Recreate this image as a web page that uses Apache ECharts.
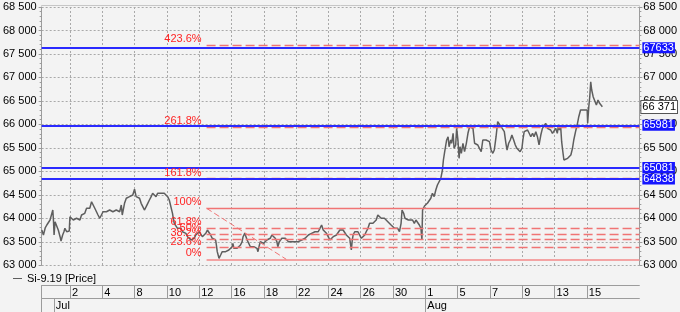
<!DOCTYPE html>
<html>
<head>
<meta charset="utf-8">
<script src="https://cdn.jsdelivr.net/npm/echarts@6/dist/echarts.min.js"></script>
<style>
html,body{margin:0;padding:0;background:#f3f3f3;}
#chart{width:680px;height:312px;}
</style>
</head>
<body>
<div id="chart"></div>
<script>
// ---- data ----
const tradingDays = ['06-28','07-01','07-02','07-03','07-04','07-05','07-08','07-09','07-10','07-11','07-12','07-15','07-16','07-17','07-18','07-19','07-22','07-23','07-24','07-25','07-26','07-29','07-30','07-31','08-01','08-02','08-05','08-06','08-07','08-08','08-09','08-12','08-13','08-14','08-15','08-16','08-19','08-20'];
const xTickDays = ['07-02','07-04','07-08','07-10','07-12','07-16','07-18','07-22','07-24','07-26','07-30','08-01','08-05','08-07','08-09','08-13','08-15'];
const monthStarts = ['07-01','08-01'];
const monthLabels = ['Jul','Aug'];
const yTicks = [63000,63500,64000,64500,65000,65500,66000,66500,67000,67500,68000,68500];
const seriesName = 'Si-9.19 [Price]';

// time in trading days (0 = start of 1 Jul), price in RUB
const priceT = [-0.74,-0.64,-0.53,-0.43,-0.33,-0.23,-0.06,-0.02,0.02,0.08,0.18,0.28,0.39,0.45,0.55,0.63,0.69,0.80,0.96,1.00,
1.11,1.21,1.41,1.51,1.62,1.72,1.82,1.92,2.03,2.13,2.23,2.34,2.43,2.54,2.64,2.74,2.85,2.95,3.05,3.15,
3.26,3.46,3.66,3.87,4.08,4.18,4.24,4.38,4.49,4.59,4.69,4.89,5.00,5.10,5.20,5.31,5.41,5.51,5.61,5.72,
5.82,5.92,6.03,6.12,6.23,6.33,6.43,6.54,6.64,6.74,6.84,6.95,7.05,7.15,7.26,7.35,7.40,7.46,7.56,7.66,
7.77,7.87,7.97,8.07,8.18,8.28,8.38,8.49,8.58,8.69,8.79,8.89,9.00,9.10,9.20,9.30,9.41,9.51,9.61,9.71,
9.81,9.92,10.02,10.08,10.12,10.23,10.33,10.43,10.53,10.64,10.74,10.84,10.94,11.04,11.09,11.15,11.25,11.35,11.45,11.56,
11.66,11.72,11.82,11.90,11.97,12.07,12.17,12.27,12.38,12.48,12.58,12.64,12.73,12.79,12.89,12.99,13.10,13.19,13.30,13.40,
13.50,13.61,13.71,13.81,13.87,13.96,14.02,14.12,14.22,14.33,14.42,14.53,14.63,14.73,14.84,14.94,15.04,15.14,15.35,15.45,
15.56,15.65,15.76,15.86,15.96,16.07,16.17,16.37,16.48,16.58,16.68,16.79,16.88,16.99,17.09,17.19,17.30,17.40,17.50,17.60,
17.71,17.81,17.91,18.02,18.11,18.22,18.32,18.42,18.48,18.53,18.63,18.73,18.83,18.94,19.04,19.14,19.25,19.34,19.45,19.55,
19.65,19.76,19.86,19.96,20.06,20.17,20.27,20.37,20.47,20.57,20.68,20.78,20.88,20.99,21.09,21.19,21.29,21.40,21.50,21.56,
21.66,21.74,21.86,21.95,22.07,22.21,22.32,22.42,22.52,22.63,22.73,22.79,22.83,22.95,23.14,23.34,23.44,23.55,23.65,23.75,
23.86,23.96,24.06,24.12,24.20,24.26,24.32,24.41,24.47,24.57,24.63,24.72,24.78,24.88,24.94,25.02,25.09,25.15,25.23,25.33,
25.43,25.54,25.64,25.74,25.84,25.95,26.05,26.15,26.25,26.35,26.46,26.56,26.66,26.76,26.87,26.97,27.07,27.18,27.27,27.38,
27.48,27.58,27.69,27.79,27.89,27.99,28.06,28.16,28.26,28.36,28.47,28.57,28.67,28.78,28.87,28.98,29.04,29.12,29.22,29.33,
29.43,29.53,29.64,29.73,29.84,29.94,30.04,30.15,30.25,30.35,30.45,30.56,30.66,30.76,30.87,30.96,31.07,31.17,31.23,31.30,
31.38,31.44,31.50,31.58,31.64,31.70,31.81,31.91,32.01,32.11,32.19,32.30,32.40,32.50,32.61,32.71,32.81,32.91,33.02,33.05,
33.12,33.18,33.24,33.30,33.39,33.49,33.59,33.69,33.79,33.90,33.96,34.00];
const priceV = [63752,63645,63795,63858,63894,63965,64177,63965,63645,63928,63894,63752,63609,63517,63645,63715,63788,63715,63730,64035,
64001,63965,64001,64035,63965,64071,64035,64107,64214,64248,64214,64354,64320,64214,64177,64071,64001,64035,64141,64177,
64141,64177,64141,64177,64141,64284,64071,64320,64427,64390,64461,64497,64620,64461,64497,64427,64320,64248,64177,64248,
64320,64390,64461,64533,64497,64461,64533,64497,64533,64497,64533,64567,64461,64390,64354,64107,64001,63894,63858,63788,
63822,63788,63715,63752,63681,63609,63645,63539,63503,63575,63645,63681,63715,63681,63609,63645,63681,63752,63715,63645,
63575,63575,63539,63396,63290,63149,63219,63290,63256,63290,63256,63326,63290,63396,63468,63362,63396,63362,63396,63432,
63503,63609,63681,63609,63539,63468,63396,63362,63396,63432,63362,63290,63432,63503,63539,63468,63503,63539,63575,63575,
63645,63609,63575,63503,63396,63503,63539,63575,63539,63575,63539,63503,63539,63503,63539,63503,63539,63503,63539,63575,
63575,63609,63645,63645,63681,63681,63715,63715,63788,63858,63752,63715,63681,63609,63539,63575,63609,63575,63645,63681,
63752,63788,63752,63715,63645,63609,63575,63326,63539,63645,63715,63752,63715,63681,63575,63609,63645,63715,63788,63894,
63928,63894,63928,63965,64071,64035,64001,64035,64001,63965,63928,63894,63858,63822,63788,63822,63788,63715,63894,64177,
64107,64001,64035,63965,63928,63965,63894,63965,64001,63858,63788,63539,64177,64263,64327,64427,64533,64461,64603,64710,
64746,64852,65029,65242,65419,65455,65668,65738,65525,65668,65598,65811,65491,65562,65917,65668,65278,65525,65385,65598,
65419,65598,65811,65951,65987,65917,65598,65632,65562,65491,65419,65668,65704,65668,65704,65632,65455,65385,65455,65738,
66058,66024,65951,65917,65845,65598,65455,65598,65668,65774,65668,65562,65491,65455,65419,65491,65668,65845,65811,65881,
65811,65738,65811,65738,65845,65738,65562,65774,65917,65951,66024,65917,65951,65881,65811,65845,65917,65811,65951,65881,
65951,65632,65455,65242,65278,65206,65278,65278,65349,65491,65668,65845,65987,66164,66307,66343,66307,66343,66307,66024,
66377,66590,66909,66733,66590,66626,66413,66520,66449,66483,66377,66371];
const lastPrice = 66371;

const blueLevels = [67633, 65981, 65081, 64838];

const fibLabels = ['423.6%','261.8%','161.8%','100%','61.8%','50%','38.2%','23.6%','0%'];
const fibPrices = [67690, 65945, 64843, 64214, 63788, 63660, 63553, 63375, 63128];
const fibStartT = 9.46;      // fib drawn from the 12 Jul high
const fibLowT = 14.39;       // to the low anchor
const xMinT = -0.75, xMaxT = 36.25;

// ---- build ----
const slots = [];
for (let s = 0; s <= 148; s++) {
  const t = s / 4 - 0.75;
  const d = Math.floor(t + 1e-9);
  const q = Math.round((t - d) * 4);
  slots.push(tradingDays[d + 1] + '|' + q);
}
const dayOf = v => v.split('|')[0];
const isStart = v => v.split('|')[1] === '0';
const isGridSlot = (i, v) => isStart(v) && xTickDays.indexOf(dayOf(v)) >= 0;
const isMonthSlot = (i, v) => isStart(v) && monthStarts.indexOf(dayOf(v)) >= 0;
const fmt = v => String(v).replace(/\B(?=(\d{3})+(?!\d))/g, ' ');

const FONT = '"Liberation Sans", Arial, sans-serif';
const GRIDC = '#a9a9a9';
const AXC = '#9c9c9c';

const blueData = blueLevels.map(v => ({
  yAxis: v,
  lineStyle: {color: '#2a2aff', width: 2, type: 'solid'},
  label: {show: true, position: 'end', distance: 3, formatter: String(v),
    backgroundColor: '#1414ff', color: '#fff', fontSize: 11, lineHeight: 10,
    padding: [1, 1, 0, 1], fontFamily: FONT}
}));

const fibData = fibLabels.map((lab, i) => {
  const solid = lab === '100%' || lab === '0%';
  return [{
    coord: [fibStartT, fibPrices[i]],
    lineStyle: {
      color: lab === '0%' ? '#f3a3a3' : '#f07474',
      width: lab === '0%' ? 2.2 : 1.3,
      type: solid ? 'solid' : [9, 4]
    },
    label: {show: true, position: 'start', distance: 5, formatter: lab + '\n ',
      color: '#ff2424', fontSize: 11, lineHeight: 12, fontFamily: FONT}
  }, {coord: [xMaxT, fibPrices[i]]}];
});
fibData.push([{
  coord: [fibStartT, fibPrices[3]],
  lineStyle: {color: '#f07474', width: 1, type: [6, 3]},
  label: {show: false}
}, {coord: [fibLowT, fibPrices[8]]}]);

const catAxisBase = {type: 'category', data: slots, boundaryGap: false, gridIndex: 0};

const option = {
  backgroundColor: '#f3f3f3',
  animation: false,
  textStyle: {fontFamily: FONT},
  grid: {left: 39.5, right: 39, top: 7, bottom: 46.7, show: false},
  legend: {
    data: [seriesName], left: 8, top: 267, icon: 'rect', itemWidth: 9, itemHeight: 1,
    selectedMode: false, textStyle: {fontSize: 11, color: '#000', fontFamily: FONT, lineHeight: 13}
  },
  xAxis: [
    Object.assign({}, catAxisBase, {
      position: 'bottom',
      axisLine: {show: false, onZero: false}, axisTick: {show: false}, axisLabel: {show: false},
      splitLine: {show: true, interval: isGridSlot, lineStyle: {color: GRIDC, type: [2, 2], width: 1}}
    }),
    {type: 'value', gridIndex: 0, min: xMinT, max: xMaxT, show: false, splitLine: {show: false}},
    Object.assign({}, catAxisBase, {
      position: 'bottom', offset: 20,
      axisLine: {show: true, onZero: false, lineStyle: {color: AXC}},
      axisTick: {show: true, interval: (i, v) => i === 0 || isGridSlot(i, v), length: 13, lineStyle: {color: AXC}},
      axisLabel: {interval: isGridSlot, formatter: v => String(parseInt(v.slice(3, 5), 10)),
        align: 'left', margin: 2, padding: [0, 0, 0, 2], fontSize: 11, color: '#000', fontFamily: FONT},
      splitLine: {show: false}
    }),
    Object.assign({}, catAxisBase, {
      position: 'bottom', offset: 33,
      axisLine: {show: true, onZero: false, lineStyle: {color: AXC}},
      axisTick: {show: true, interval: (i, v) => i === 0 || isMonthSlot(i, v), length: 14, lineStyle: {color: AXC}},
      axisLabel: {interval: isMonthSlot, formatter: v => monthLabels[monthStarts.indexOf(dayOf(v))],
        align: 'left', margin: 2, padding: [0, 0, 0, 2], fontSize: 11, color: '#000', fontFamily: FONT},
      splitLine: {show: false}
    }),
    Object.assign({}, catAxisBase, {
      position: 'top', offset: 2,
      axisLine: {show: true, onZero: false, lineStyle: {color: '#c6c6c6'}},
      axisTick: {show: false}, axisLabel: {show: false}, splitLine: {show: false}
    })
  ],
  yAxis: [
    {
      type: 'value', position: 'left', min: yTicks[0], max: yTicks[yTicks.length - 1], interval: 500,
      axisLine: {show: true, onZero: false, lineStyle: {color: AXC}},
      axisTick: {show: true, length: 3, lineStyle: {color: AXC}},
      minorTick: {show: true, splitNumber: 5, length: 2, lineStyle: {color: AXC}},
      axisLabel: {formatter: fmt, margin: 5, fontSize: 11, color: '#000', fontFamily: FONT},
      splitLine: {show: true, lineStyle: {color: GRIDC, type: [2, 2], width: 1}}
    },
    {
      type: 'value', position: 'right', min: yTicks[0], max: yTicks[yTicks.length - 1], interval: 500,
      axisLine: {show: true, onZero: false, lineStyle: {color: AXC}},
      axisTick: {show: true, length: 3, lineStyle: {color: AXC}},
      minorTick: {show: true, splitNumber: 5, length: 2, lineStyle: {color: AXC}},
      axisLabel: {formatter: fmt, margin: 4, fontSize: 11, color: '#000', fontFamily: FONT},
      splitLine: {show: false}
    }
  ],
  series: [
    {
      name: 'fib', type: 'line', xAxisIndex: 1, yAxisIndex: 0, data: [], z: 2,
      markLine: {silent: true, symbol: ['none', 'none'], animation: false, data: fibData}
    },
    {
      name: 'levels', type: 'line', xAxisIndex: 1, yAxisIndex: 0, data: [], z: 3,
      markLine: {silent: true, symbol: ['none', 'none'], animation: false, data: blueData}
    },
    {
      name: seriesName, type: 'line', xAxisIndex: 1, yAxisIndex: 0, z: 4,
      data: priceT.map((t, i) => [t, priceV[i]]),
      showSymbol: false, symbol: 'none',
      lineStyle: {color: '#5e5e5e', width: 1.5},
      itemStyle: {color: '#5e5e5e'},
      markLine: {
        silent: true, symbol: ['none', 'none'], animation: false,
        data: [{
          yAxis: lastPrice, lineStyle: {color: 'rgba(0,0,0,0)', width: 1},
          label: {show: true, position: 'end', distance: 2, formatter: fmt(lastPrice),
            backgroundColor: '#ffffff', borderColor: '#555', borderWidth: 1,
            color: '#000', fontSize: 11, lineHeight: 11, padding: [1, 1, 0, 1], fontFamily: FONT}
        }]
      }
    }
  ]
};

const chart = echarts.init(document.getElementById('chart'), null, {renderer: 'canvas'});
chart.setOption(option);
</script>
</body>
</html>
